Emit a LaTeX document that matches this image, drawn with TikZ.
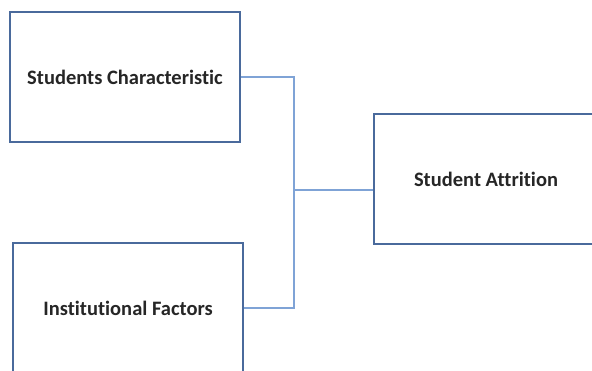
\documentclass[tikz,border=0pt]{standalone}
\usepackage{fontspec}
\setmainfont[Ligatures=NoCommon]{Carlito}
\begin{document}
\begin{tikzpicture}[x=1pt,y=1pt,
  box/.style={draw=boxblue,line width=2pt,rectangle,inner sep=0pt,font=\fontsize{20.5}{24}\selectfont\bfseries,text=black!85},
  conn/.style={draw=connblue,line width=1.3pt}]
\definecolor{boxblue}{HTML}{4A6A9C}
\definecolor{connblue}{HTML}{7FA3D6}
\useasboundingbox (0,0) rectangle (592,370);
\clip (0,0) rectangle (592,370);
\fill[white] (0,0) rectangle (592,370);
\node[box,minimum width=230,minimum height=130] (b1) at (125,293) {Students Characteristic};
\node[box,minimum width=230,minimum height=130] (b2) at (128,62) {Institutional Factors};
\node[box,minimum width=224,minimum height=130] (b3) at (486,191) {Student Attrition};
\coordinate (j) at (294,180);
\draw[conn] (b1.east) -| (j) |- (b2.east);
\draw[conn] (j) -- (j -| b3.west);
\end{tikzpicture}
\end{document}
